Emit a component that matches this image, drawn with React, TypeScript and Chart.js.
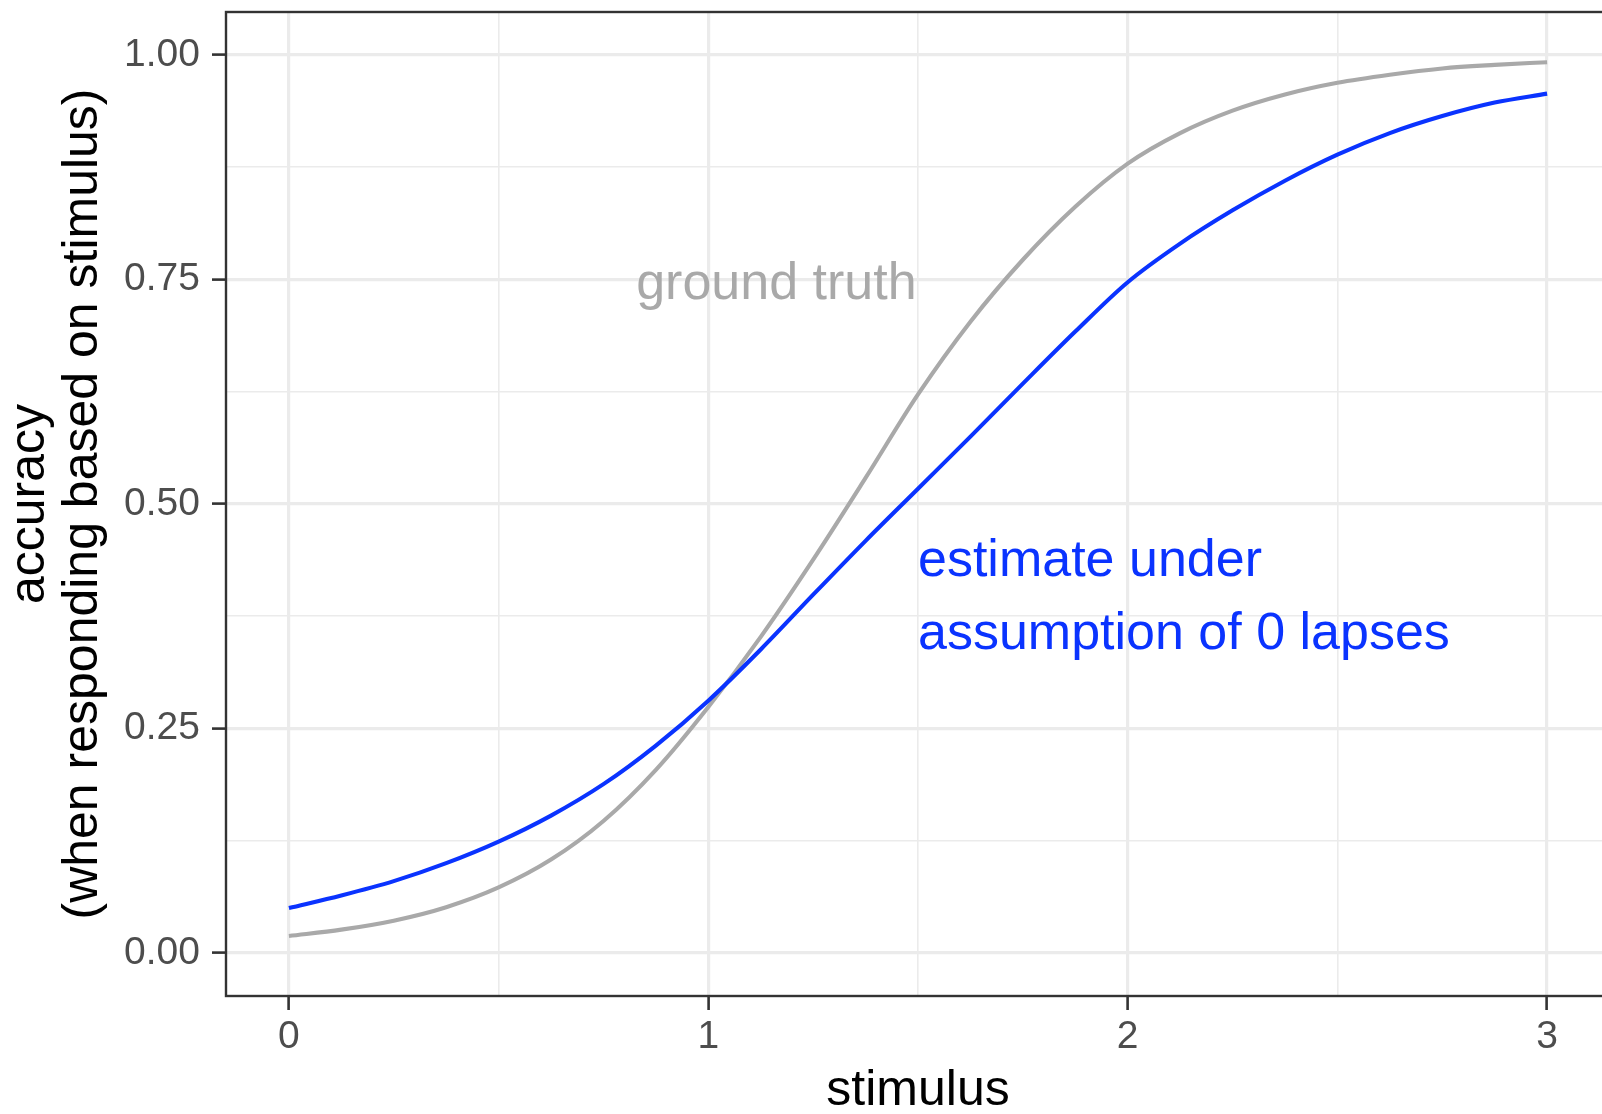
import React, { useEffect, useRef } from "react";
import { Chart, registerables } from "chart.js";

Chart.register(...registerables);

// ---- data ----
const stimulus = [
  0, 0.125, 0.25, 0.375, 0.5, 0.625, 0.75, 0.875, 1, 1.125, 1.25, 1.375, 1.5,
  1.625, 1.75, 1.875, 2, 2.125, 2.25, 2.375, 2.5, 2.625, 2.75, 2.875, 3,
];
const groundTruth = [
  0.019, 0.026, 0.036, 0.051, 0.073, 0.104, 0.147, 0.204, 0.274, 0.352, 0.438,
  0.529, 0.622, 0.703, 0.772, 0.831, 0.879, 0.913, 0.938, 0.956, 0.969, 0.978,
  0.985, 0.989, 0.992,
];
const estimateZeroLapses = [
  0.050, 0.064, 0.080, 0.100, 0.124, 0.153, 0.188, 0.231, 0.281, 0.338, 0.399,
  0.459, 0.517, 0.575, 0.634, 0.692, 0.747, 0.790, 0.827, 0.860, 0.889, 0.913,
  0.932, 0.947, 0.957,
];

const xTickValues = [0, 0.5, 1, 1.5, 2, 2.5, 3];
const xTickLabels = ["0", "", "1", "", "2", "", "3"];
const yTickValues = [0, 0.125, 0.25, 0.375, 0.5, 0.625, 0.75, 0.875, 1];
const yTickLabels = ["0.00", "", "0.25", "", "0.50", "", "0.75", "", "1.00"];
const xLimits = [-0.15, 3.15];
const yLimits = [-0.0479, 1.0479];

const xTitle = "stimulus";
const yTitle = ["accuracy", "(when responding based on stimulus)"];

const annotationTexts = ["ground truth", "estimate under", "assumption of 0 lapses"];
const annotationX = [0.828, 1.5, 1.5];
const annotationY = [0.7285, 0.4197, 0.3385];
const annotationColors = ["#A9A9A9", "#0A33FF", "#0A33FF"];

const FONT = '"Liberation Sans", Arial, Helvetica, sans-serif';
const GRID = "#EBEBEB";
const DARK = "#333333";

const panelBorder = {
  id: "panelBorder",
  afterDatasetsDraw(chart: any) {
    const { ctx, chartArea } = chart;
    ctx.save();
    ctx.strokeStyle = DARK;
    ctx.lineWidth = 2.4;
    ctx.strokeRect(
      chartArea.left,
      chartArea.top,
      chartArea.right - chartArea.left,
      chartArea.bottom - chartArea.top
    );
    ctx.restore();
  },
};

const annotations = {
  id: "annotations",
  afterDatasetsDraw(chart: any) {
    const { ctx } = chart;
    const xs = chart.scales.x;
    const ys = chart.scales.y;
    ctx.save();
    ctx.font = `52px ${FONT}`;
    ctx.textAlign = "left";
    ctx.textBaseline = "alphabetic";
    annotationTexts.forEach((t, i) => {
      ctx.fillStyle = annotationColors[i];
      ctx.fillText(t, xs.getPixelForValue(annotationX[i]), ys.getPixelForValue(annotationY[i]));
    });
    ctx.restore();
  },
};

export default function App() {
  const canvasRef = useRef<HTMLCanvasElement | null>(null);

  useEffect(() => {
    document.body.style.margin = "0";
    const canvas = canvasRef.current;
    if (!canvas) return;
    const chart = new Chart(canvas, {
      type: "line",
      data: {
        datasets: [
          {
            label: "estimate under assumption of 0 lapses",
            data: stimulus.map((x, i) => ({ x, y: estimateZeroLapses[i] })),
            borderColor: "#0A33FF",
            borderWidth: 4.1,
            pointRadius: 0,
            cubicInterpolationMode: "monotone",
            order: 0,
          },
          {
            label: "ground truth",
            data: stimulus.map((x, i) => ({ x, y: groundTruth[i] })),
            borderColor: "#A9A9A9",
            borderWidth: 4.1,
            pointRadius: 0,
            cubicInterpolationMode: "monotone",
            order: 1,
          },
        ],
      },
      options: {
        responsive: false,
        animation: false,
        devicePixelRatio: 1,
        layout: { padding: { top: 12, right: 10, bottom: 0, left: 0 } },
        plugins: {
          legend: { display: false },
          tooltip: { enabled: false },
        },
        scales: {
          x: {
            type: "linear",
            min: xLimits[0],
            max: xLimits[1],
            afterBuildTicks: (scale: any) => {
              scale.ticks = xTickValues.map((v) => ({ value: v }));
            },
            afterFit: (scale: any) => {
              scale.height = 118;
              scale.paddingLeft = 0;
              scale.paddingRight = 0;
              scale.paddingTop = 0;
              scale.paddingBottom = 0;
            },
            border: { display: false },
            grid: {
              color: GRID,
              lineWidth: (c: any) => (xTickLabels[c.index] ? 3.2 : 1.6),
              tickColor: (c: any) => (xTickLabels[c.index] ? DARK : "rgba(0,0,0,0)"),
              tickLength: 14,
              tickWidth: 2.6,
            },
            ticks: {
              autoSkip: false,
              maxRotation: 0,
              padding: 4,
              color: "#4D4D4D",
              font: { size: 39, family: FONT },
              callback: (_v: any, i: number) => xTickLabels[i],
            },
            title: {
              display: true,
              text: xTitle,
              color: "#000000",
              font: { size: 50, family: FONT, lineHeight: 0.92 },
              padding: { top: 0, bottom: 0 },
            },
          },
          y: {
            type: "linear",
            min: yLimits[0],
            max: yLimits[1],
            afterBuildTicks: (scale: any) => {
              scale.ticks = yTickValues.map((v) => ({ value: v }));
            },
            afterFit: (scale: any) => {
              scale.width = 226;
              scale.paddingLeft = 0;
              scale.paddingRight = 0;
              scale.paddingTop = 0;
              scale.paddingBottom = 0;
            },
            border: { display: false },
            grid: {
              color: GRID,
              lineWidth: (c: any) => (yTickLabels[c.index] ? 3.2 : 1.6),
              tickColor: (c: any) => (yTickLabels[c.index] ? DARK : "rgba(0,0,0,0)"),
              tickLength: 14,
              tickWidth: 2.6,
            },
            ticks: {
              autoSkip: false,
              padding: 12,
              color: "#4D4D4D",
              font: { size: 39, family: FONT },
              callback: (_v: any, i: number) => yTickLabels[i],
            },
            title: {
              display: true,
              text: yTitle,
              color: "#000000",
              font: { size: 50, family: FONT, lineHeight: 1.06 },
              padding: { top: 4, bottom: 0 },
            },
          },
        },
      } as any,
      plugins: [panelBorder, annotations],
    });
    return () => chart.destroy();
  }, []);

  return (
    <div
      style={{
        position: "absolute",
        left: 0,
        top: 0,
        width: 1602,
        height: 1114,
        overflow: "hidden",
        background: "#FFFFFF",
      }}
    >
      <canvas ref={canvasRef} width={1620} height={1114} style={{ display: "block", width: 1620, height: 1114 }} />
    </div>
  );
}
